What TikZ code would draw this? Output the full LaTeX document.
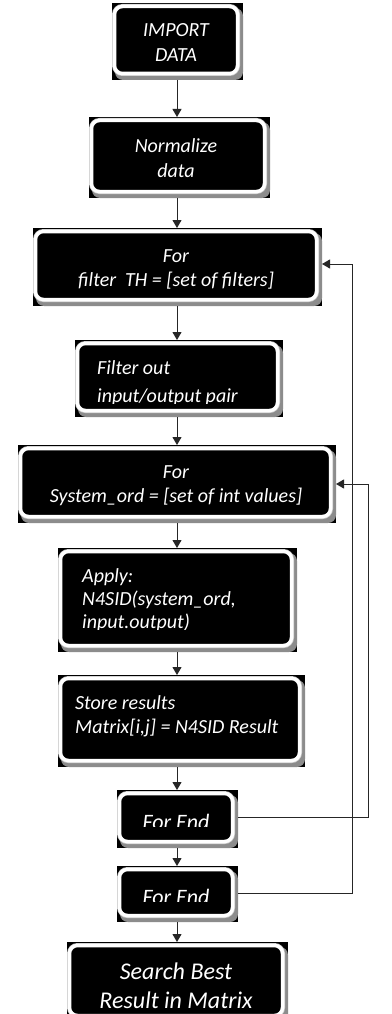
\documentclass[tikz,border=0pt]{standalone}
\usepackage{fontspec}
\setmainfont{Carlito}
\usetikzlibrary{arrows.meta,calc}
\tikzset{
  boxbg/.style={fill=black, inner sep=0pt, outer sep=0pt},
  boxshadow/.style={fill=black!45, rounded corners=8pt},
  rim/.style={draw=black!18, line width=5pt, rounded corners=8pt},
  face/.style={draw=white, fill=black, line width=3.5pt, rounded corners=8pt},
  txt/.style={text=white, inner sep=0pt, font=\fontsize{20}{24}\selectfont\itshape},
  bigtxt/.style={txt, font=\fontsize{22}{26}\selectfont\itshape},
  hugetxt/.style={txt, font=\fontsize{24}{28}\selectfont\itshape},
  arr/.style={draw=black!85, line width=1pt, -{Triangle[length=8pt,width=9pt]}},
}
\newcommand\flowbox[5]{%
  \node[boxbg, minimum width={(#4-#2)*1pt}, minimum height={(#5-#3)*1pt}] (#1) at ({(#2+#4)/2},{(#3+#5)/2}) {};
  \path[boxshadow] ([xshift=3pt,yshift=-5pt]#1.north west) rectangle (#1.south east);
  \path[rim] ([xshift=2.5pt,yshift=-3.5pt]#1.north west) rectangle ([xshift=-5.5pt,yshift=6.5pt]#1.south east);
  \path[face] ([xshift=2.5pt,yshift=-3.5pt]#1.north west) rectangle ([xshift=-5.5pt,yshift=6.5pt]#1.south east);
}
\begin{document}
\begin{tikzpicture}[x=1pt,y=-1pt]
\useasboundingbox[fill=white] (0,0) rectangle (391,1014);
\coordinate (axis) at (177,0);
\coordinate (loopin) at (368,0);
\coordinate (loopout) at (352,0);

% boxes
\flowbox{b1}{112}{3}{243}{80}
\flowbox{b2}{89}{117}{270}{198}
\flowbox{b3}{33}{228}{322}{306}
\flowbox{b4}{75}{340}{283}{417}
\flowbox{b5}{18}{445}{336}{523}
\flowbox{b6}{58}{548}{297}{652}
\flowbox{b7}{58}{675}{305}{767}
\flowbox{b8}{117}{790}{238}{848}
\flowbox{b9}{117}{866}{238}{922}
\flowbox{b10}{67}{942}{288}{1022}

% texts
\node[txt, anchor=base] (t1a) at (176,37) {IMPORT};
\node[txt, anchor=base] (t1b) at (176,62) {DATA};
\node[txt, anchor=base] (t2a) at (176,153) {Normalize};
\node[txt, anchor=base] (t2b) at (176,177) {data};
\node[txt, anchor=base] (t3a) at (176,262) {For};
\node[txt, anchor=base] (t3b) at (176,286) {filter\ \ TH = [set of filters]};
\begin{scope}
  \clip (78,345) rectangle (278,403);
  \node[txt, anchor=base west] (t4a) at (97,374) {Filter out};
  \node[txt, anchor=base west] (t4b) at (97,402) {input/output pair};
\end{scope}
\node[txt, anchor=base] (t5a) at (176,478) {For};
\node[txt, anchor=base] (t5b) at (176,502) {System\_ord = [set of int values]};
\begin{scope}
  \clip (62,552) rectangle (292,629);
  \node[txt, anchor=base west] (t6a) at (82,582) {Apply:};
  \node[txt, anchor=base west] (t6b) at (82,605) {N4SID(system\_ord,};
  \node[txt, anchor=base west] (t6c) at (82,628) {input.output)};
\end{scope}
\node[txt, anchor=base west] (t7a) at (75,709) {Store results};
\node[txt, anchor=base west] (t7b) at (75,733) {Matrix[i,j] = N4SID Result};
\begin{scope}
  \clip (120,793) rectangle (233,826);
  \node[bigtxt, anchor=base] (t8) at (176,829) {For End};
\end{scope}
\begin{scope}
  \clip (120,869) rectangle (233,901);
  \node[bigtxt, anchor=base] (t9) at (176,904) {For End};
\end{scope}
\node[hugetxt, anchor=base] (t10a) at (176,979) {Search Best};
\node[hugetxt, anchor=base] (t10b) at (176,1008) {Result in Matrix};

% flow arrows
\draw[arr] (b1.south -| axis) -- (b2.north -| axis);
\draw[arr] (b2.south -| axis) -- (b3.north -| axis);
\draw[arr] (b3.south -| axis) -- (b4.north -| axis);
\draw[arr] (b4.south -| axis) -- (b5.north -| axis);
\draw[arr] (b5.south -| axis) -- (b6.north -| axis);
\draw[arr] (b6.south -| axis) -- (b7.north -| axis);
\draw[arr] (b7.south -| axis) -- (b8.north -| axis);
\draw[arr] (b8.south -| axis) -- (b9.north -| axis);
\draw[arr] (b9.south -| axis) -- (b10.north -| axis);

% loop-back connectors
\draw[arr] ([yshift=2pt]b8.east) -| (loopin |- b5.east) -- (b5.east);
\draw[arr] ([yshift=1pt]b9.east) -| ([yshift=3pt]loopout |- b3.east) -- ([yshift=3pt]b3.east);
\end{tikzpicture}
\end{document}
